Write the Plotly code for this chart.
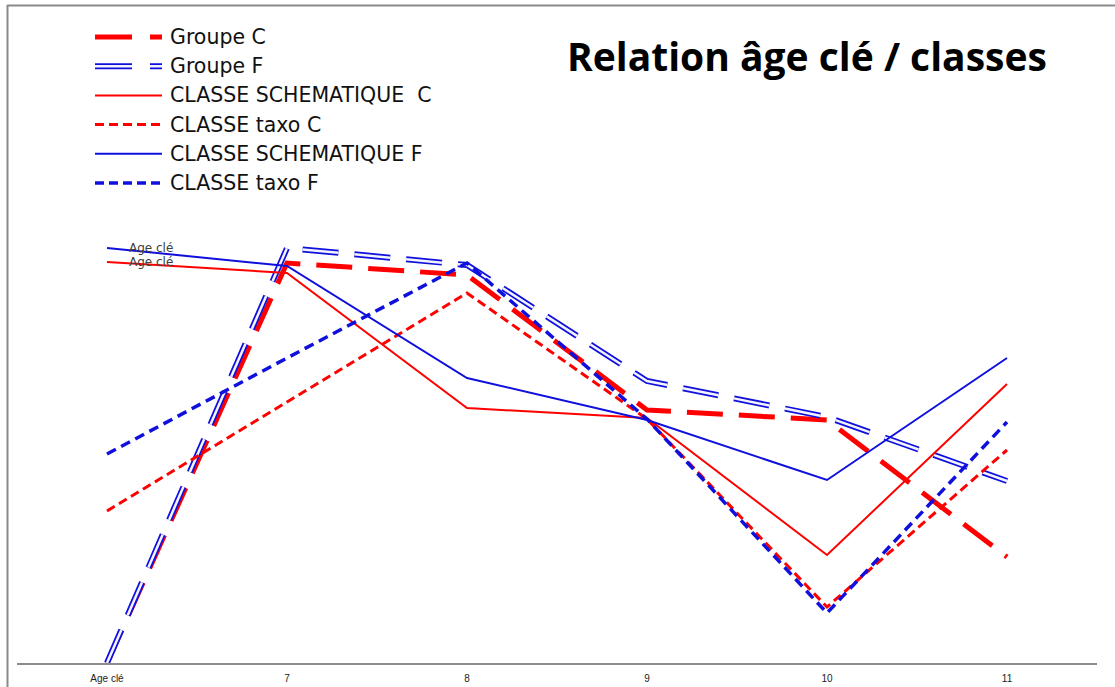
import plotly.graph_objects as go

categories = ["Age clé", "7", "8", "9", "10", "11"]

groupe_c = [0, 80.0, 77.6, 50.6, 48.6, 21.2]
groupe_f = [0, 83.0, 79.6, 56.4, 49.2, 36.4]
schem_c = [80.2, 78.0, 51.0, 49.0, 21.6, 55.8]
taxo_c = [30.4, 52.2, 74.0, 48.8, 11.2, 42.6]
schem_f = [83.0, 79.4, 57.0, 48.6, 36.6, 61.0]
taxo_f = [41.8, 61.0, 80.0, 48.8, 10.0, 48.2]

legend_names = ["Groupe C", "Groupe F", "CLASSE SCHEMATIQUE\u00a0\u00a0C",
                "CLASSE taxo C", "CLASSE SCHEMATIQUE F", "CLASSE taxo F"]
title_text = "Relation âge clé / classes"

RED = "#ff0000"
BLUE = "#1010dd"
W_FIG, H_FIG = 1115, 687
L, R, T, B = 17, 18, 163, 24
PW = W_FIG - L - R
PH = H_FIG - T - B


def px(x):
    return (x - L) / PW


def py(y):
    return (T + PH - y) / PH


fig = go.Figure()

fig.add_trace(go.Scatter(x=categories, y=groupe_c, mode="lines",
                         line=dict(color=RED, width=5, dash="36px,16px"),
                         showlegend=False))
fig.add_trace(go.Scatter(x=categories, y=groupe_f, mode="lines",
                         line=dict(color=BLUE, width=6, dash="36px,16px"),
                         showlegend=False))
fig.add_trace(go.Scatter(x=categories, y=groupe_f, mode="lines",
                         line=dict(color="#f2f3ff", width=2.5, dash="36px,16px"),
                         showlegend=False))
fig.add_trace(go.Scatter(x=categories, y=schem_c, mode="lines",
                         line=dict(color=RED, width=2), showlegend=False))
fig.add_trace(go.Scatter(x=categories, y=taxo_c, mode="lines",
                         line=dict(color=RED, width=3, dash="9px,5px"),
                         showlegend=False))
fig.add_trace(go.Scatter(x=categories, y=schem_f, mode="lines",
                         line=dict(color=BLUE, width=2), showlegend=False))
fig.add_trace(go.Scatter(x=categories, y=taxo_f, mode="lines",
                         line=dict(color=BLUE, width=3.5, dash="10px,6px"),
                         showlegend=False))

annotations = []
# data labels (category names) for the schematic series
for series in (schem_f, schem_c):
    for c, v in zip(categories, series):
        annotations.append(dict(x=c, y=v, xref="x", yref="y", text=c,
                                showarrow=False, xanchor="left", yanchor="middle",
                                xshift=20, yshift=0,
                                font=dict(family="DejaVu Sans", size=12, color="#404040")))

# manual legend
styles = [
    [dict(color=RED, width=5, dash="37px,18px")],
    [dict(color=BLUE, width=6, dash="37px,18px"), dict(color="#f2f3ff", width=2.5, dash="37px,18px")],
    [dict(color=RED, width=2, dash="solid")],
    [dict(color=RED, width=3, dash="9px,5px")],
    [dict(color=BLUE, width=2, dash="solid")],
    [dict(color=BLUE, width=3.5, dash="9px,5px")],
]
shapes = []
row_y0, row_dy = 37, 29.2
for i, (name, st) in enumerate(zip(legend_names, styles)):
    yy = row_y0 + i * row_dy
    for s in st:
        shapes.append(dict(type="line", xref="paper", yref="paper",
                           x0=px(95), x1=px(162), y0=py(yy), y1=py(yy), line=s))
    annotations.append(dict(x=px(168), y=py(yy), xref="paper", yref="paper",
                            text=name, showarrow=False, xanchor="left", yanchor="middle",
                            font=dict(family="DejaVu Sans", size=20.5, color="#111111")))

annotations.append(dict(x=px(1049), y=py(55), xref="paper", yref="paper",
                        text=title_text, showarrow=False, xanchor="right", yanchor="middle",
                        font=dict(family="Open Sans", size=39, color="#000000", weight="bold")))

# outer frame (top and left)
shapes.append(dict(type="line", xref="paper", yref="paper", x0=px(7), x1=px(1115),
                   y0=py(5.5), y1=py(5.5), line=dict(color="#8a8a8a", width=2)))
shapes.append(dict(type="line", xref="paper", yref="paper", x0=px(7.5), x1=px(7.5),
                   y0=py(5), y1=py(687), line=dict(color="#8a8a8a", width=2)))

fig.update_layout(
    width=W_FIG, height=H_FIG, autosize=False,
    margin=dict(l=L, r=R, t=T, b=B, pad=0, autoexpand=False),
    paper_bgcolor="white", plot_bgcolor="white",
    showlegend=False,
    annotations=annotations, shapes=shapes,
    xaxis=dict(type="category", categoryarray=categories, range=[-0.5, 5.5],
               automargin=False,
               showgrid=False, zeroline=False, showline=True,
               linecolor="#8c8c8c", linewidth=2,
               ticks="outside", ticklen=5, tickcolor="rgba(0,0,0,0)",
               tickfont=dict(family="Liberation Sans Narrow, Liberation Sans", size=10, color="#222222")),
    yaxis=dict(range=[0, 100], visible=False, showgrid=False, zeroline=False, automargin=False),
)

fig.write_html("out.html",
               config={"responsive": False, "displayModeBar": False},
               post_script="document.body.style.margin='0';document.body.style.overflow='hidden';")
